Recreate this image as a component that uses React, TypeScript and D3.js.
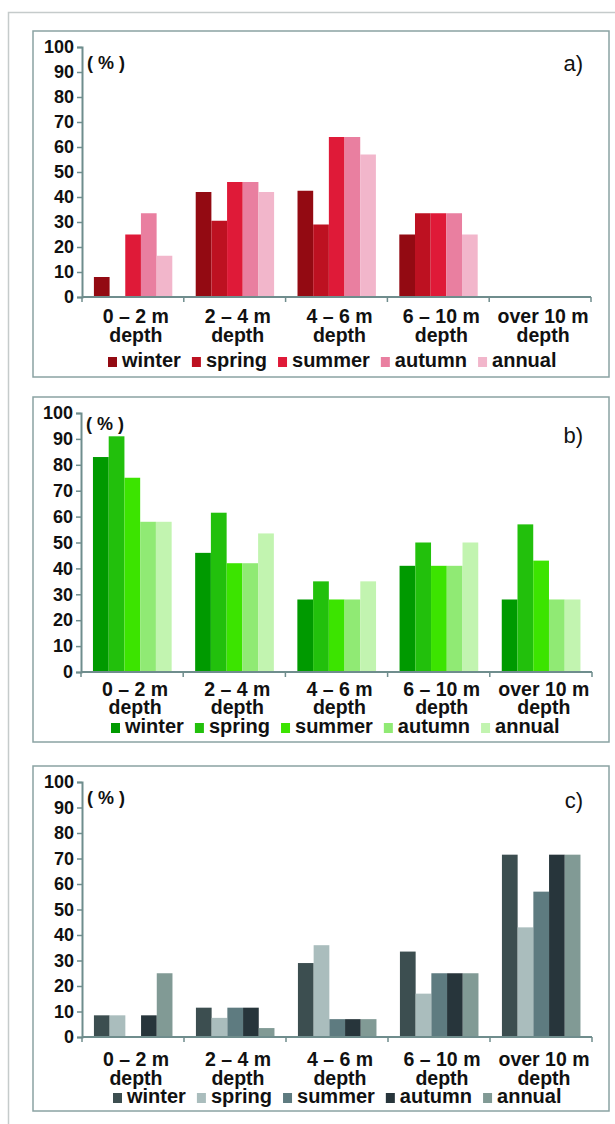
import React, { useEffect, useRef } from 'react';
import * as d3 from 'd3';

// depth classes and seasons
const categories = ['0 – 2 m', '2 – 4 m', '4 – 6 m', '6 – 10 m', 'over 10 m'];
const seasons = ['winter', 'spring', 'summer', 'autumn', 'annual'];
const yTicks = [0, 10, 20, 30, 40, 50, 60, 70, 80, 90, 100];

// panel a) values (%)
const aWinter = [8, 42, 42.5, 25, 0];
const aSpring = [0, 30.5, 29, 33.5, 0];
const aSummer = [25, 46, 64, 33.5, 0];
const aAutumn = [33.5, 46, 64, 33.5, 0];
const aAnnual = [16.5, 42, 57, 25, 0];

// panel b) values (%)
const bWinter = [83, 46, 28, 41, 28];
const bSpring = [91, 61.5, 35, 50, 57];
const bSummer = [75, 42, 28, 41, 43];
const bAutumn = [58, 42, 28, 41, 28];
const bAnnual = [58, 53.5, 35, 50, 28];

// panel c) values (%)
const cWinter = [8.5, 11.5, 29, 33.5, 71.5];
const cSpring = [8.5, 7.5, 36, 17, 43];
const cSummer = [0, 11.5, 7, 25, 57];
const cAutumn = [8.5, 11.5, 7, 25, 71.5];
const cAnnual = [25, 3.5, 7, 25, 71.5];

const aColors = ['#930a12', '#bd1121', '#df1a38', '#e97fa0', '#f2b6cb'];
const bColors = ['#009a00', '#22c00c', '#3ce400', '#90ea74', '#c2f4b0'];
const cColors = ['#3c4e50', '#aabdbd', '#5e7b80', '#27353b', '#819a95'];

// layout for each panel (pixels)
const panels = [
  { tag: 'a)', series: [aWinter, aSpring, aSummer, aAutumn, aAnnual], colors: aColors,
    top: 31, bottom: 377, axisX: 82, y0: 297, y100: 47, xEnd: 591,
    line1: 323, line2: 342, legendY: 367, legendX: 108, tagY: 71, pctY: 69 },
  { tag: 'b)', series: [bWinter, bSpring, bSummer, bAutumn, bAnnual], colors: bColors,
    top: 397, bottom: 742, axisX: 81, y0: 672, y100: 413, xEnd: 592,
    line1: 696, line2: 714, legendY: 733, legendX: 111, tagY: 443, pctY: 430 },
  { tag: 'c)', series: [cWinter, cSpring, cSummer, cAutumn, cAnnual], colors: cColors,
    top: 766, bottom: 1111, axisX: 82, y0: 1037, y100: 782, xEnd: 592,
    line1: 1066, line2: 1085, legendY: 1103, legendX: 113, tagY: 808, pctY: 804 },
];

const font = "'Liberation Sans', Arial, sans-serif";
const axisColor = '#6f8d8d';

const App = () => {
  const ref = useRef<SVGSVGElement>(null);

  useEffect(() => {
    if (!ref.current) return;
    const svg = d3.select(ref.current);
    svg.selectAll('*').remove();

    // outer frame (left and top only)
    svg.append('path')
      .attr('d', 'M8.5,1124V12.5H615')
      .attr('fill', 'none')
      .attr('stroke', '#c5cbcb')
      .attr('stroke-width', 1.5);

    panels.forEach(p => {
      const g = svg.append('g');

      // panel box
      g.append('rect')
        .attr('x', 33).attr('y', p.top)
        .attr('width', 609 - 33).attr('height', p.bottom - p.top)
        .attr('fill', 'none')
        .attr('stroke', '#8aa3a3')
        .attr('stroke-width', 1.5);

      const y = d3.scaleLinear().domain([0, 100]).range([p.y0, p.y100]);
      const x = d3.scaleBand().domain(categories).range([p.axisX, p.xEnd]).padding(0);
      const bw = x.bandwidth();
      const xs = d3.scaleBand().domain(seasons).range([bw * 0.117, bw * 0.887]).padding(0);

      // bars
      seasons.forEach((s, si) => {
        g.append('g').selectAll('rect')
          .data(p.series[si].map((v, i) => ({ cat: categories[i], v })))
          .join('rect')
          .attr('x', d => (x(d.cat) ?? 0) + (xs(s) ?? 0))
          .attr('y', d => y(d.v))
          .attr('width', xs.bandwidth())
          .attr('height', d => y(0) - y(d.v))
          .attr('fill', p.colors[si]);
      });

      // y axis
      const yAxis = g.append('g')
        .attr('transform', `translate(${p.axisX},0)`)
        .call(d3.axisLeft(y).tickValues(yTicks).tickSize(5).tickSizeOuter(5).tickPadding(3));
      yAxis.attr('font-size', null).attr('font-family', null);
      yAxis.select('.domain').attr('stroke', axisColor).attr('stroke-width', 2);
      yAxis.selectAll('.tick line').attr('stroke', axisColor).attr('stroke-width', 1.5);
      yAxis.selectAll('.tick text')
        .style('font-family', font).style('font-size', '18px').style('font-weight', 'bold')
        .attr('fill', '#111');

      // x axis with ticks at the class boundaries
      g.append('line')
        .attr('x1', p.axisX).attr('x2', p.xEnd)
        .attr('y1', y(0)).attr('y2', y(0))
        .attr('stroke', axisColor).attr('stroke-width', 2);
      const bounds = categories.map(c => x(c) ?? 0).concat([x.range()[1]]);
      g.append('g').selectAll('line')
        .data(bounds)
        .join('line')
        .attr('x1', d => d).attr('x2', d => d)
        .attr('y1', y(0)).attr('y2', y(0) + 5)
        .attr('stroke', axisColor).attr('stroke-width', 1.5);

      // category labels (two lines)
      const lab = g.append('g')
        .style('font-family', font).style('font-size', '19.5px').style('font-weight', 'bold')
        .attr('fill', '#111').attr('text-anchor', 'middle');
      categories.forEach(c => {
        const cx = (x(c) ?? 0) + bw / 2 + 3;
        lab.append('text').attr('x', cx).attr('y', p.line1).text(c);
        lab.append('text').attr('x', cx).attr('y', p.line2).text('depth');
      });

      // "( % )" and panel tag
      g.append('text')
        .attr('x', p.axisX + 5).attr('y', p.pctY)
        .style('font-family', font).style('font-size', '18px').style('font-weight', 'bold')
        .style('white-space', 'pre')
        .attr('fill', '#111')
        .text('( % )');
      g.append('text')
        .attr('x', 583).attr('y', p.tagY)
        .attr('text-anchor', 'end')
        .style('font-family', font).style('font-size', '22px')
        .attr('fill', '#111')
        .text(p.tag);

      // legend: square + label laid out in a row
      let lx = p.legendX;
      seasons.forEach((s, si) => {
        g.append('rect')
          .attr('x', lx).attr('y', p.legendY - 10)
          .attr('width', 9).attr('height', 10)
          .attr('fill', p.colors[si]);
        const t = g.append('text')
          .attr('x', lx + 14).attr('y', p.legendY)
          .style('font-family', font).style('font-size', '20px').style('font-weight', 'bold')
          .attr('fill', '#111')
          .text(s);
        const w = (t.node() as SVGTextElement).getComputedTextLength();
        lx += 14 + w + 11;
      });
    });
  }, []);

  return (
    <svg
      ref={ref}
      width={615}
      height={1124}
      style={{ position: 'absolute', left: 0, top: 0, background: '#fff' }}
    />
  );
};

export default App;
